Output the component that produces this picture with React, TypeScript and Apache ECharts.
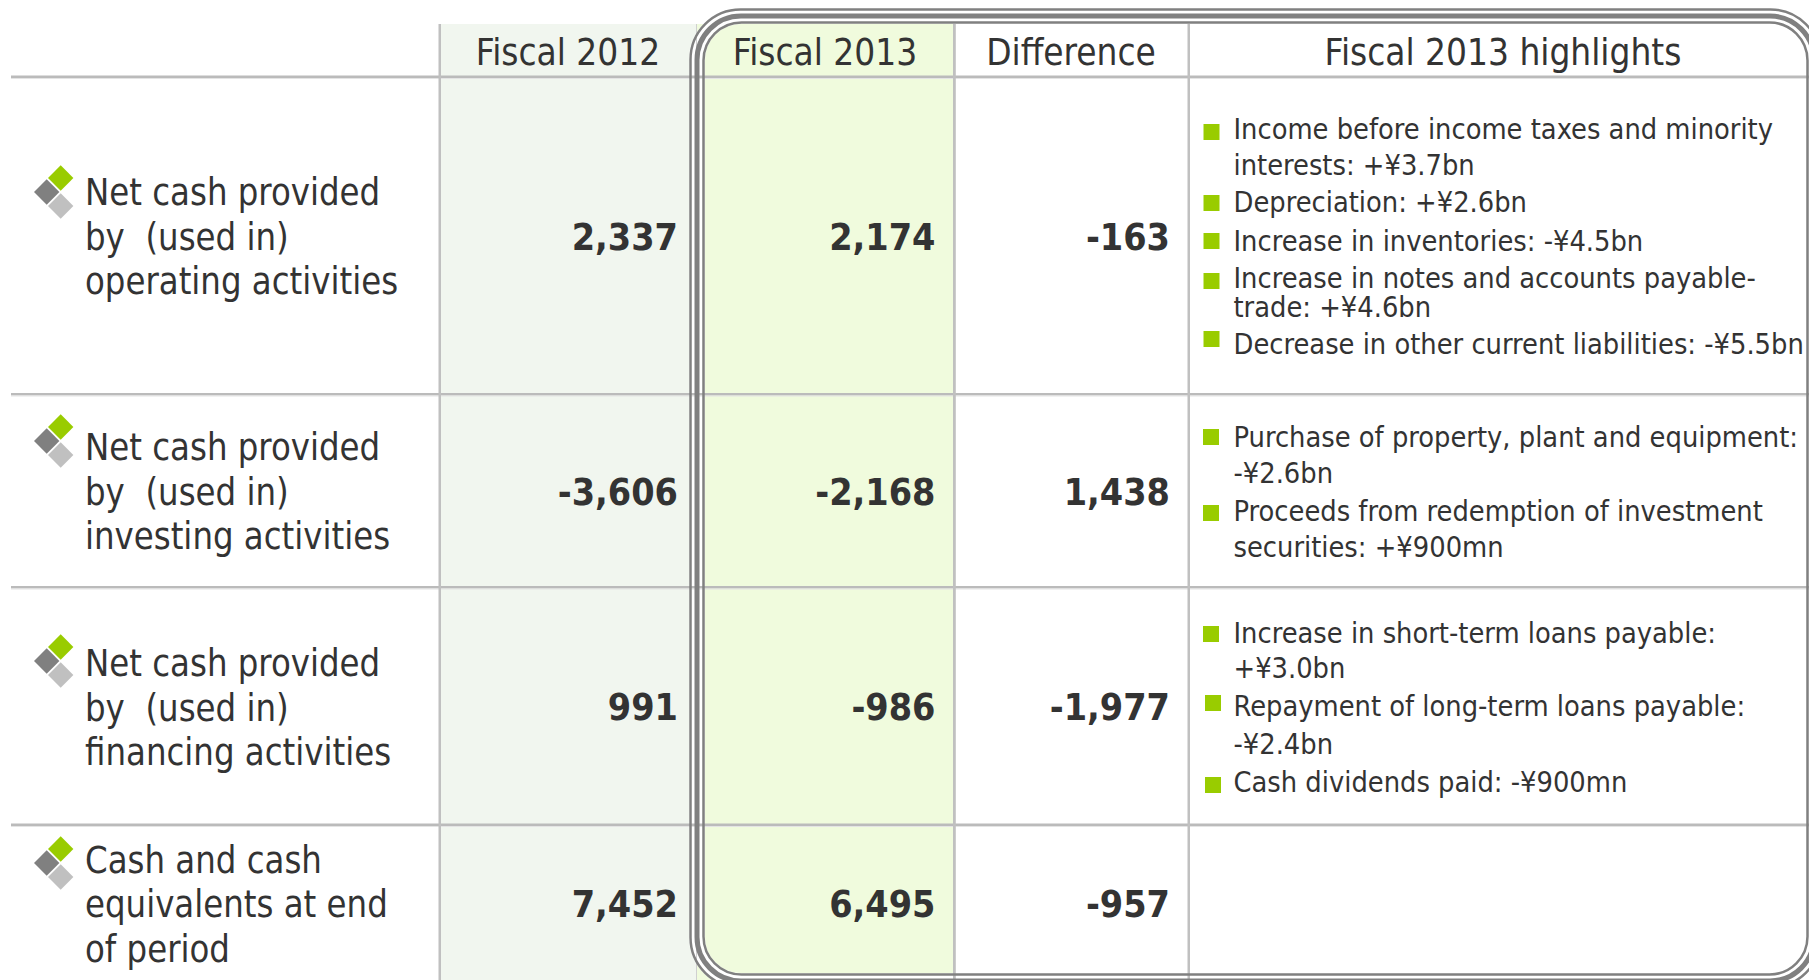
import React, { useEffect, useRef } from "react";
import * as echarts from "echarts";

const headers = ["Fiscal 2012", "Fiscal 2013", "Difference", "Fiscal 2013 highlights"];
const rowLabels = [
  ["Net cash provided", "by  (used in)", "operating activities"],
  ["Net cash provided", "by  (used in)", "investing activities"],
  ["Net cash provided", "by  (used in)", "financing activities"],
  ["Cash and cash", "equivalents at end", "of period"],
];
const fiscal2012 = ["2,337", "-3,606", "991", "7,452"];
const fiscal2013 = ["2,174", "-2,168", "-986", "6,495"];
const difference = ["-163", "1,438", "-1,977", "-957"];
const highlights = [
  "Income before income taxes and minority", "interests: +¥3.7bn", "Depreciation: +¥2.6bn",
  "Increase in inventories: -¥4.5bn", "Increase in notes and accounts payable-", "trade: +¥4.6bn",
  "Decrease in other current liabilities: -¥5.5bn",
  "Purchase of property, plant and equipment:", "-¥2.6bn",
  "Proceeds from redemption of investment", "securities: +¥900mn",
  "Increase in short-term loans payable:", "+¥3.0bn",
  "Repayment of long-term loans payable:", "-¥2.4bn", "Cash dividends paid: -¥900mn",
];

// layout
const FONT = "'DejaVu Sans Condensed', 'DejaVu Sans', sans-serif";
const TEXT = "#333333";
const GREEN = "#99cc00";
const labelBase = [[205, 250, 294], [460, 505, 549], [676, 721, 765], [873, 917, 962]];
const numBase = [250, 505, 720, 917];
const diamondY = [178, 427, 647, 849];
const highlightBase = [139, 175, 212, 251, 288, 317, 354, 447, 483, 521, 557, 643, 678, 716, 754, 792];
const bulletPos = [
  [1203.5, 124], [1203.5, 195], [1203.5, 233], [1203.5, 273], [1203.5, 331],
  [1203, 429], [1203, 505], [1203, 626], [1205, 695], [1205, 777],
];
const numRight = [678, 935.5, 1170];
const headX = [568, 825, 1071, 1503];
const hLines = [75.5, 393, 586, 823.5];
const vLines = [[438.5, 2.5], [953, 2.8], [1187.5, 2.5]];

const SCALE_LABEL = 0.975;
const SCALE_HEAD = 0.99;
const SCALE_NUM = 1.01;
const SCALE_HIGH = 0.99;

function txt(text: string, x: number, base: number, size: number, align: string, scaleX: number, bold = false) {
  return {
    type: "text", x, y: base - size * 0.346, scaleX, silent: true,
    style: {
      x: 0, y: 0, text, fill: TEXT, align, verticalAlign: "middle",
      font: `${bold ? "bold " : ""}${size}px ${FONT}`,
    },
  };
}
function rect(x: number, y: number, width: number, height: number, fill: string) {
  return { type: "rect", shape: { x, y, width, height }, style: { fill }, silent: true };
}
function ring(inset: number, lineWidth: number, stroke: string, r: number) {
  return {
    type: "rect", silent: true,
    shape: { x: 697 + inset, y: 16 + inset, width: 1117 - 2 * inset, height: 965 - 2 * inset, r },
    style: { fill: "transparent", stroke, lineWidth },
  };
}
function diamond(cx: number, cy: number, fill: string) {
  const a = 12.7;
  return {
    type: "polygon", silent: true,
    shape: { points: [[cx, cy - a], [cx + a, cy], [cx, cy + a], [cx - a, cy]] },
    style: { fill },
  };
}

export default function App() {
  const ref = useRef<HTMLDivElement>(null);
  useEffect(() => {
    document.body.style.margin = "0";
    document.body.style.overflow = "hidden";
    const chart = echarts.init(ref.current!, undefined, { renderer: "svg" });
    const els: any[] = [];
    els.push(rect(439, 24, 258, 956, "#f1f6ef"));
    els.push(rect(697, 24, 258, 956, "#f0fbdd"));
    els.push(ring(0, 16, "#ffffff", 44));
    hLines.forEach((y) => {
      els.push(rect(11, y, 1798, 2.4, "#bbbbbb"));
      els.push(rect(11, y + 2.4, 1798, 1, "#e4e4e4"));
    });
    vLines.forEach(([x, w]) => els.push(rect(x, 24, w, 956, "#c0c0c0")));
    els.push(rect(696, 24, 1, 956, "#d0d0d0"));
    els.push(ring(-6.5, 2.5, "#808080", 50));
    els.push(ring(0, 5, "#808080", 44));
    els.push(ring(6.5, 2.5, "#808080", 38));

    headers.forEach((h, i) => els.push(txt(h, headX[i], 65, 37, "center", SCALE_HEAD)));
    rowLabels.forEach((lines, r) => {
      const cy = diamondY[r];
      els.push(diamond(60.7, cy, GREEN), diamond(46.7, cy + 14, "#808080"), diamond(60.7, cy + 28, "#c0c0c0"));
      lines.forEach((l, i) => els.push(txt(l, 85, labelBase[r][i], 37, "left", SCALE_LABEL)));
      [fiscal2012, fiscal2013, difference].forEach((col, c) =>
        els.push(txt(col[r], numRight[c], numBase[r], 37, "right", SCALE_NUM, true)));
    });
    highlights.forEach((l, i) => els.push(txt(l, 1233.5, highlightBase[i], 29, "left", SCALE_HIGH)));
    bulletPos.forEach(([x, y]) => els.push(rect(x, y, 16, 16, GREEN)));

    chart.setOption({ animation: false, graphic: { elements: els } });
    return () => chart.dispose();
  }, []);
  return <div ref={ref} style={{ width: 1809, height: 980, overflow: "hidden" }} />;
}
